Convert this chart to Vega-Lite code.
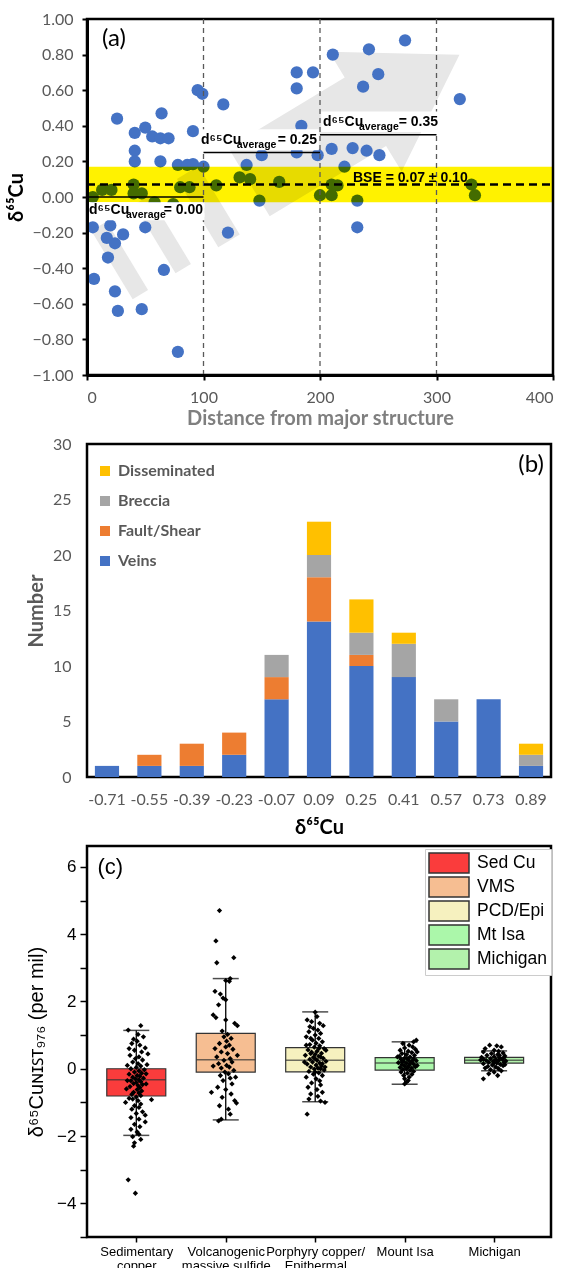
{
"$schema": "https://vega.github.io/schema/vega-lite/v6.json",
"padding": {"left": 4, "top": 9, "right": 10, "bottom": 0},
"spacing": 69,
"bounds": "flush",
"resolve": {"scale": {"color": "independent"}, "legend": {"color": "independent"}},
"config": {
  "font": "Lato",
  "view": {"stroke": "black", "strokeWidth": 2.5},
  "axis": {"grid": false, "domain": false, "tickColor": "black"}
},
"datasets": {
  "summ": [
    {"x": 1, "lbl": "Sed Cu", "lo": -1.98, "q1": -0.81, "med": -0.33, "q3": 0.0, "hi": 1.14},
    {"x": 2, "lbl": "VMS", "lo": -1.52, "q1": -0.1, "med": 0.27, "q3": 1.05, "hi": 2.68},
    {"x": 3, "lbl": "PCD/Epi", "lo": -0.98, "q1": -0.09, "med": 0.25, "q3": 0.63, "hi": 1.69},
    {"x": 4, "lbl": "Mt Isa", "lo": -0.46, "q1": -0.04, "med": 0.17, "q3": 0.33, "hi": 0.8},
    {"x": 5, "lbl": "Michigan", "lo": -0.06, "q1": 0.17, "med": 0.25, "q3": 0.34, "hi": 0.53}
  ]
},
"vconcat": [
{
  "width": 466, "height": 356,
  "encoding": {
    "x": {"field": "x", "type": "quantitative", "title": "Distance from major structure",
      "scale": {"domain": [0, 400], "nice": false, "zero": false},
      "axis": {"values": [0, 100, 200, 300, 400], "labelColor": "#595959", "labelFontSize": 16, "tickSize": 5, "tickWidth": 2, "labelPadding": 9, "domain": true, "domainWidth": 3, "domainColor": "black", "titleFontSize": 20, "titleFontWeight": "bold", "titleColor": "#7F7F7F", "titlePadding": 3, "zindex": 1}},
    "y": {"field": "y", "type": "quantitative", "title": "δ⁶⁵Cu",
      "scale": {"domain": [-1, 1], "nice": false, "zero": false},
      "axis": {"values": [-1, -0.8, -0.6, -0.4, -0.2, 0, 0.2, 0.4, 0.6, 0.8, 1], "format": ".2f", "labelColor": "#595959", "labelFontSize": 16, "tickSize": 5, "tickWidth": 2, "labelPadding": 9, "domain": true, "domainWidth": 3, "domainColor": "black", "titleFontSize": 20, "titleFontWeight": "bold", "titleColor": "black", "titlePadding": 6, "zindex": 1}}
  },
  "layer": [
    {"data": {"values": [
      {"p": "s1", "i": 0, "x": 3.7, "y": -0.19}, {"p": "s1", "i": 1, "x": 39.2, "y": -0.574}, {"p": "s1", "i": 2, "x": 52.4, "y": -0.522}, {"p": "s1", "i": 3, "x": 16.9, "y": -0.138},
      {"p": "s2", "i": 0, "x": 40.4, "y": -0.044}, {"p": "s2", "i": 1, "x": 76.0, "y": -0.429}, {"p": "s2", "i": 2, "x": 89.2, "y": -0.376}, {"p": "s2", "i": 3, "x": 53.6, "y": 0.008},
      {"p": "s3", "i": 0, "x": 77.2, "y": 0.101}, {"p": "s3", "i": 1, "x": 112.7, "y": -0.283}, {"p": "s3", "i": 2, "x": 131.1, "y": -0.211}, {"p": "s3", "i": 3, "x": 95.5, "y": 0.174},
      {"p": "b", "i": 0, "x": 121.3, "y": 0.276}, {"p": "b", "i": 1, "x": 221.2, "y": 0.671}, {"p": "b", "i": 2, "x": 207.8, "y": 0.816}, {"p": "b", "i": 3, "x": 319.7, "y": 0.799}, {"p": "b", "i": 4, "x": 270.1, "y": 0.143}, {"p": "b", "i": 5, "x": 256.7, "y": 0.287}, {"p": "b", "i": 6, "x": 156.8, "y": -0.108}
    ]},
     "mark": {"type": "line", "filled": true, "color": "#E7E7E7", "strokeWidth": 0, "clip": true},
     "encoding": {"detail": {"field": "p"}, "order": {"field": "i", "type": "quantitative"}}},
    {"data": {"values": [
      {"x": 25.8, "y": 0.44}, {"x": 41, "y": 0.36}, {"x": 50, "y": 0.39}, {"x": 64, "y": 0.47}, {"x": 56, "y": 0.34}, {"x": 63, "y": 0.33}, {"x": 70, "y": 0.33}, {"x": 95, "y": 0.6}, {"x": 99, "y": 0.58}, {"x": 117, "y": 0.52}, {"x": 91, "y": 0.37}, {"x": 41, "y": 0.26}, {"x": 41, "y": 0.2}, {"x": 63, "y": 0.2}, {"x": 78, "y": 0.18}, {"x": 86, "y": 0.18}, {"x": 91, "y": 0.185}, {"x": 100, "y": 0.17}, {"x": 137, "y": 0.18}, {"x": 150, "y": 0.235}, {"x": 180, "y": 0.7}, {"x": 194, "y": 0.7}, {"x": 180, "y": 0.61}, {"x": 211, "y": 0.8}, {"x": 242, "y": 0.83}, {"x": 273, "y": 0.88}, {"x": 250, "y": 0.69}, {"x": 237, "y": 0.62}, {"x": 320, "y": 0.55}, {"x": 184, "y": 0.4}, {"x": 180, "y": 0.25}, {"x": 198, "y": 0.235}, {"x": 210, "y": 0.27}, {"x": 228, "y": 0.275}, {"x": 240, "y": 0.26}, {"x": 251, "y": 0.235}, {"x": 221, "y": 0.17},
      {"x": 13, "y": 0.04}, {"x": 21, "y": 0.04}, {"x": 40, "y": 0.07}, {"x": 40, "y": 0.02}, {"x": 47, "y": 0.02}, {"x": 80, "y": 0.055}, {"x": 88, "y": 0.055}, {"x": 111, "y": 0.065}, {"x": 131, "y": 0.11}, {"x": 140, "y": 0.1}, {"x": 148, "y": -0.02}, {"x": 165, "y": 0.085}, {"x": 210, "y": 0.07}, {"x": 215, "y": 0.065}, {"x": 200, "y": 0.01}, {"x": 210, "y": 0.01}, {"x": 232, "y": -0.02}, {"x": 330, "y": 0.07}, {"x": 333, "y": 0.01}, {"x": 58, "y": -0.03}, {"x": 74, "y": -0.04}, {"x": 5, "y": 0.0},
      {"x": 5, "y": -0.17}, {"x": 20, "y": -0.16}, {"x": 17, "y": -0.23}, {"x": 31, "y": -0.21}, {"x": 24, "y": -0.26}, {"x": 18, "y": -0.34}, {"x": 50, "y": -0.17}, {"x": 6, "y": -0.46}, {"x": 24, "y": -0.53}, {"x": 26.5, "y": -0.64}, {"x": 47, "y": -0.63}, {"x": 66, "y": -0.41}, {"x": 78, "y": -0.87}, {"x": 121, "y": -0.2}, {"x": 232, "y": -0.17}
    ]},
     "mark": {"type": "circle", "size": 150, "color": "#4472C4", "opacity": 1}},
    {"data": {"values": [{"x": 0, "x2": 400, "y": -0.03, "y2": 0.17}]},
     "mark": {"type": "rect", "color": "#FFF200", "blend": "multiply"},
     "encoding": {"x2": {"field": "x2"}, "y2": {"field": "y2"}}},
    {"data": {"values": [{"x": 100, "y": -1, "y2": 1}, {"x": 200, "y": -1, "y2": 1}, {"x": 300, "y": -1, "y2": 1}]},
     "mark": {"type": "rule", "color": "#595959", "strokeDash": [5, 4], "strokeWidth": 1.3},
     "encoding": {"y2": {"field": "y2"}}},
    {"data": {"values": [{"x": 0, "x2": 400, "y": 0.07}]},
     "mark": {"type": "rule", "color": "black", "strokeDash": [8, 5], "strokeWidth": 2.5},
     "encoding": {"x2": {"field": "x2"}}},
    {"data": {"values": [{"x": 1.5, "x2": 101, "y": -0.03, "y2": -0.13}, {"x": 96, "x2": 199, "y": 0.262, "y2": 0.38}, {"x": 201, "x2": 303, "y": 0.365, "y2": 0.48}]},
     "mark": {"type": "rect", "color": "white"},
     "encoding": {"x2": {"field": "x2"}, "y2": {"field": "y2"}}},
    {"data": {"values": [{"x": 0, "x2": 100, "y": 0.0}, {"x": 100, "x2": 200, "y": 0.25}, {"x": 200, "x2": 300, "y": 0.35}]},
     "mark": {"type": "rule", "color": "black", "strokeWidth": 1.5},
     "encoding": {"x2": {"field": "x2"}}},
    {"data": {"values": [{"x": 1.7, "y": -0.073, "t": "d⁶⁵Cu"}, {"x": 97.9, "y": 0.32, "t": "d⁶⁵Cu"}, {"x": 202.6, "y": 0.421, "t": "d⁶⁵Cu"}, {"x": 228.3, "y": 0.107, "t": "BSE = 0.07 ± 0.10"}]},
     "mark": {"type": "text", "align": "left", "baseline": "middle", "font": "Liberation Sans", "fontWeight": "bold", "fontSize": 14, "color": "black"},
     "encoding": {"text": {"field": "t"}}},
    {"data": {"values": [{"x": 33.5, "y": -0.1, "t": "average"}, {"x": 128.5, "y": 0.292, "t": "average"}, {"x": 233.5, "y": 0.393, "t": "average"}]},
     "mark": {"type": "text", "align": "left", "baseline": "middle", "font": "Liberation Sans", "fontWeight": "bold", "fontSize": 10.5, "color": "black"},
     "encoding": {"text": {"field": "t"}}},
    {"data": {"values": [{"x": 99.6, "y": -0.073, "t": "= 0.00"}, {"x": 197.4, "y": 0.32, "t": "= 0.25"}, {"x": 301.3, "y": 0.421, "t": "= 0.35"}]},
     "mark": {"type": "text", "align": "right", "baseline": "middle", "font": "Liberation Sans", "fontWeight": "bold", "fontSize": 14, "color": "black"},
     "encoding": {"text": {"field": "t"}}},
    {"data": {"values": [{"x": 23.2, "y": 0.888, "t": "(a)"}]},
     "mark": {"type": "text", "baseline": "middle", "fontSize": 24, "color": "black"},
     "encoding": {"text": {"field": "t"}}}
  ]
},
{
  "width": 464, "height": 333,
  "layer": [
    {"data": {"values": [
      {"bin": "-0.71", "type": "Veins", "n": 1, "k": 1},
      {"bin": "-0.55", "type": "Veins", "n": 1, "k": 1}, {"bin": "-0.55", "type": "Fault/Shear", "n": 1, "k": 2},
      {"bin": "-0.39", "type": "Veins", "n": 1, "k": 1}, {"bin": "-0.39", "type": "Fault/Shear", "n": 2, "k": 2},
      {"bin": "-0.23", "type": "Veins", "n": 2, "k": 1}, {"bin": "-0.23", "type": "Fault/Shear", "n": 2, "k": 2},
      {"bin": "-0.07", "type": "Veins", "n": 7, "k": 1}, {"bin": "-0.07", "type": "Fault/Shear", "n": 2, "k": 2}, {"bin": "-0.07", "type": "Breccia", "n": 2, "k": 3},
      {"bin": "0.09", "type": "Veins", "n": 14, "k": 1}, {"bin": "0.09", "type": "Fault/Shear", "n": 4, "k": 2}, {"bin": "0.09", "type": "Breccia", "n": 2, "k": 3}, {"bin": "0.09", "type": "Disseminated", "n": 3, "k": 4},
      {"bin": "0.25", "type": "Veins", "n": 10, "k": 1}, {"bin": "0.25", "type": "Fault/Shear", "n": 1, "k": 2}, {"bin": "0.25", "type": "Breccia", "n": 2, "k": 3}, {"bin": "0.25", "type": "Disseminated", "n": 3, "k": 4},
      {"bin": "0.41", "type": "Veins", "n": 9, "k": 1}, {"bin": "0.41", "type": "Breccia", "n": 3, "k": 3}, {"bin": "0.41", "type": "Disseminated", "n": 1, "k": 4},
      {"bin": "0.57", "type": "Veins", "n": 5, "k": 1}, {"bin": "0.57", "type": "Breccia", "n": 2, "k": 3},
      {"bin": "0.73", "type": "Veins", "n": 7, "k": 1},
      {"bin": "0.89", "type": "Veins", "n": 1, "k": 1}, {"bin": "0.89", "type": "Breccia", "n": 1, "k": 3}, {"bin": "0.89", "type": "Disseminated", "n": 1, "k": 4}
    ]},
     "mark": {"type": "bar"},
     "encoding": {
       "x": {"field": "bin", "type": "ordinal", "title": "δ⁶⁵Cu",
         "sort": ["-0.71", "-0.55", "-0.39", "-0.23", "-0.07", "0.09", "0.25", "0.41", "0.57", "0.73", "0.89"],
         "scale": {"paddingInner": 0.43, "paddingOuter": 0.186},
         "axis": {"labelAngle": 0, "labelColor": "#595959", "labelFontSize": 16, "tickSize": 0, "labelPadding": 14, "titleColor": "black", "titleFontSize": 20, "titleFontWeight": "bold", "titlePadding": 10}},
       "y": {"field": "n", "type": "quantitative", "stack": "zero", "title": "Number",
         "scale": {"domain": [0, 30], "nice": false},
         "axis": {"values": [0, 5, 10, 15, 20, 25, 30], "labelColor": "#595959", "labelFontSize": 16, "tickSize": 0, "labelPadding": 16, "titleColor": "#595959", "titleFontSize": 20, "titleFontWeight": "bold", "titlePadding": 6}},
       "color": {"field": "type", "type": "nominal",
         "scale": {"domain": ["Disseminated", "Breccia", "Fault/Shear", "Veins"], "range": ["#FFC000", "#A5A5A5", "#ED7D31", "#4472C4"]},
         "legend": {"title": null, "orient": "none", "legendX": 10, "legendY": 19, "symbolType": "square", "symbolSize": 100, "symbolStrokeWidth": 0, "symbolOpacity": 1, "labelFont": "Lato", "labelFontSize": 16, "labelFontWeight": "bold", "labelColor": "#595959", "rowPadding": 14, "labelOffset": 5, "padding": 0}},
       "order": {"field": "k", "type": "quantitative"}
     }},
    {"data": {"values": [{"bin": "0.89", "n": 28.1, "t": "(b)"}]},
     "mark": {"type": "text", "fontSize": 24, "baseline": "middle", "color": "black"},
     "encoding": {
       "x": {"field": "bin", "type": "ordinal", "title": "δ⁶⁵Cu", "sort": ["-0.71", "-0.55", "-0.39", "-0.23", "-0.07", "0.09", "0.25", "0.41", "0.57", "0.73", "0.89"]},
       "y": {"field": "n", "type": "quantitative", "title": "Number"},
       "text": {"field": "t"}
     }}
  ]
},
{
  "width": 464, "height": 391,
  "encoding": {
    "x": {"field": "x", "type": "quantitative", "title": null,
      "scale": {"domain": [0.505, 5.58], "nice": false, "zero": false},
      "axis": {"values": [1, 2, 3, 4, 5], "labelOverlap": false, "labelBound": false, "labelExpr": "datum.value == 1 ? ['Sedimentary', 'copper'] : datum.value == 2 ? ['Volcanogenic', 'massive sulfide'] : datum.value == 3 ? ['Porphyry copper/', 'Epithermal'] : datum.value == 4 ? 'Mount Isa' : 'Michigan'", "labelFont": "Liberation Sans", "labelFontSize": 13, "labelLineHeight": 14, "labelColor": "black", "tickSize": 5, "tickWidth": 1.5, "labelPadding": 3}},
    "y": {"field": "y", "type": "quantitative", "title": "δ⁶⁵Cuɴɪꜱᴛ₉₇₆ (per mil)",
      "scale": {"domain": [-5, 6.62], "nice": false, "zero": false},
      "axis": {"values": [-5, -4, -3, -2, -1, 0, 1, 2, 3, 4, 5, 6], "labelExpr": "datum.value % 2 == 0 ? datum.label : ''", "labelFont": "Liberation Sans", "labelFontSize": 17, "labelColor": "black", "tickSize": 7, "tickWidth": 1.5, "labelPadding": 4, "titleFont": "Liberation Sans", "titleFontSize": 20, "titleFontWeight": "normal", "titleColor": "black", "titlePadding": 10}}
  },
  "layer": [
    {"data": {"name": "summ"},
     "mark": {"type": "rule", "color": "black", "strokeWidth": 1.3},
     "encoding": {"y": {"field": "lo", "type": "quantitative", "title": "δ⁶⁵Cuɴɪꜱᴛ₉₇₆ (per mil)"}, "y2": {"field": "hi"}}},
    {"data": {"name": "summ"},
     "mark": {"type": "bar", "size": 59, "stroke": "#333333", "strokeWidth": 1.2},
     "encoding": {
       "y": {"field": "q1", "type": "quantitative", "title": "δ⁶⁵Cuɴɪꜱᴛ₉₇₆ (per mil)"}, "y2": {"field": "q3"},
       "color": {"field": "lbl", "type": "nominal",
         "scale": {"domain": ["Sed Cu", "VMS", "PCD/Epi", "Mt Isa", "Michigan"], "range": ["#FA3C3C", "#F6BE92", "#F6F1BF", "#ABF7AA", "#B3F2AC"]},
         "legend": {"title": null, "orient": "none", "legendX": 338, "legendY": 3, "fillColor": "white", "strokeColor": "#cccccc", "padding": 3, "symbolType": "M-2,-1H2V1H-2Z", "symbolSize": 400, "symbolStrokeColor": "#333333", "symbolStrokeWidth": 1.5, "symbolOpacity": 1, "symbolOffset": 10, "labelOffset": 17, "labelFont": "Liberation Sans", "labelFontSize": 17.5, "labelColor": "black", "rowPadding": -2.5}}
     }},
    {"data": {"name": "summ"},
     "mark": {"type": "tick", "orient": "horizontal", "size": 59, "thickness": 1.5, "color": "#333333"},
     "encoding": {"y": {"field": "med", "type": "quantitative", "title": "δ⁶⁵Cuɴɪꜱᴛ₉₇₆ (per mil)"}}},
    {"data": {"name": "summ"},
     "mark": {"type": "tick", "orient": "horizontal", "size": 26, "thickness": 1.5, "color": "black"},
     "encoding": {"y": {"field": "lo", "type": "quantitative", "title": "δ⁶⁵Cuɴɪꜱᴛ₉₇₆ (per mil)"}}},
    {"data": {"name": "summ"},
     "mark": {"type": "tick", "orient": "horizontal", "size": 26, "thickness": 1.5, "color": "black"},
     "encoding": {"y": {"field": "hi", "type": "quantitative", "title": "δ⁶⁵Cuɴɪꜱᴛ₉₇₆ (per mil)"}}},
    {"data": {"values": [
      {"x": 1.05, "y": 1.28}, {"x": 0.91, "y": 1.15}, {"x": 1.02, "y": 1.02}, {"x": 1.08, "y": 0.95}, {"x": 0.97, "y": 0.88}, {"x": 1.01, "y": 0.82}, {"x": 0.95, "y": 0.75}, {"x": 1.04, "y": 0.7}, {"x": 1.1, "y": 0.62}, {"x": 0.98, "y": 0.55}, {"x": 1.06, "y": 0.5}, {"x": 1.13, "y": 0.44}, {"x": 0.93, "y": 0.4}, {"x": 1.03, "y": 0.35}, {"x": 0.99, "y": 0.3}, {"x": 1.07, "y": 0.26}, {"x": 0.96, "y": 0.2}, {"x": 1.02, "y": 0.15}, {"x": 0.9, "y": 0.1}, {"x": 1.05, "y": 0.08}, {"x": 1.0, "y": 0.04}, {"x": 0.94, "y": 0.0}, {"x": 1.09, "y": -0.03}, {"x": 1.03, "y": -0.06}, {"x": 0.98, "y": -0.1}, {"x": 1.06, "y": -0.13}, {"x": 0.92, "y": -0.16}, {"x": 1.01, "y": -0.2}, {"x": 1.04, "y": -0.22}, {"x": 0.96, "y": -0.25}, {"x": 1.08, "y": -0.28}, {"x": 0.99, "y": -0.3}, {"x": 1.03, "y": -0.33}, {"x": 0.94, "y": -0.36}, {"x": 1.05, "y": -0.38}, {"x": 1.0, "y": -0.41}, {"x": 0.97, "y": -0.44}, {"x": 1.07, "y": -0.47}, {"x": 1.02, "y": -0.5}, {"x": 0.93, "y": -0.53}, {"x": 1.04, "y": -0.56}, {"x": 0.89, "y": -0.6}, {"x": 1.01, "y": -0.62}, {"x": 1.06, "y": -0.66}, {"x": 0.97, "y": -0.7}, {"x": 1.03, "y": -0.72}, {"x": 0.95, "y": -0.76}, {"x": 1.05, "y": -0.8}, {"x": 1.0, "y": -0.84}, {"x": 0.92, "y": -0.88}, {"x": 1.17, "y": -0.92}, {"x": 1.02, "y": -0.95}, {"x": 0.88, "y": -1.0}, {"x": 1.05, "y": -1.05}, {"x": 0.98, "y": -1.1}, {"x": 1.03, "y": -1.15}, {"x": 0.95, "y": -1.2}, {"x": 1.07, "y": -1.28}, {"x": 1.0, "y": -1.33}, {"x": 1.1, "y": -1.38}, {"x": 0.94, "y": -1.45}, {"x": 1.03, "y": -1.5}, {"x": 1.1, "y": -1.58}, {"x": 0.98, "y": -1.65}, {"x": 1.04, "y": -1.72}, {"x": 0.94, "y": -1.8}, {"x": 1.01, "y": -1.88}, {"x": 1.03, "y": -1.95}, {"x": 0.96, "y": -2.02}, {"x": 1.05, "y": -2.1}, {"x": 0.98, "y": -2.2}, {"x": 0.97, "y": -2.3}, {"x": 0.91, "y": -3.3}, {"x": 0.99, "y": -3.7}, {"x": 0.92, "y": 0.6}, {"x": 1.12, "y": 0.12}, {"x": 1.11, "y": -0.45}, {"x": 1.11, "y": -0.15}, {"x": 0.96, "y": -0.9}, {"x": 0.9, "y": -0.35},
      {"x": 1.93, "y": 4.7}, {"x": 1.89, "y": 3.8}, {"x": 2.09, "y": 3.3}, {"x": 1.9, "y": 3.15}, {"x": 2.05, "y": 2.68}, {"x": 2.0, "y": 2.62}, {"x": 2.04, "y": 2.6}, {"x": 1.88, "y": 2.3}, {"x": 1.94, "y": 2.22}, {"x": 1.97, "y": 2.1}, {"x": 2.0, "y": 2.05}, {"x": 1.92, "y": 1.9}, {"x": 1.86, "y": 1.6}, {"x": 1.89, "y": 1.52}, {"x": 2.1, "y": 1.35}, {"x": 2.13, "y": 1.28}, {"x": 1.96, "y": 1.12}, {"x": 2.02, "y": 1.02}, {"x": 1.98, "y": 0.95}, {"x": 2.06, "y": 0.9}, {"x": 2.01, "y": 0.82}, {"x": 1.93, "y": 0.75}, {"x": 2.04, "y": 0.7}, {"x": 2.0, "y": 0.65}, {"x": 2.08, "y": 0.58}, {"x": 1.95, "y": 0.5}, {"x": 2.02, "y": 0.45}, {"x": 2.13, "y": 0.4}, {"x": 1.9, "y": 0.35}, {"x": 2.05, "y": 0.3}, {"x": 1.98, "y": 0.25}, {"x": 2.07, "y": 0.2}, {"x": 1.92, "y": 0.15}, {"x": 2.01, "y": 0.1}, {"x": 1.86, "y": 0.08}, {"x": 2.04, "y": 0.05}, {"x": 1.95, "y": 0.02}, {"x": 2.09, "y": -0.05}, {"x": 1.99, "y": -0.1}, {"x": 2.03, "y": -0.15}, {"x": 1.94, "y": -0.2}, {"x": 2.05, "y": -0.28}, {"x": 1.97, "y": -0.35}, {"x": 2.07, "y": -0.45}, {"x": 1.91, "y": -0.55}, {"x": 2.0, "y": -0.62}, {"x": 1.84, "y": -0.7}, {"x": 2.06, "y": -0.75}, {"x": 1.96, "y": -0.85}, {"x": 2.1, "y": -0.95}, {"x": 2.12, "y": -1.02}, {"x": 1.93, "y": -1.1}, {"x": 2.03, "y": -1.2}, {"x": 2.05, "y": -1.35}, {"x": 1.95, "y": -1.5}, {"x": 1.92, "y": -1.55}, {"x": 2.0, "y": 1.45}, {"x": 1.88, "y": 0.6}, {"x": 2.11, "y": -0.25},
      {"x": 3.0, "y": 1.68}, {"x": 3.02, "y": 1.55}, {"x": 2.91, "y": 1.45}, {"x": 2.96, "y": 1.4}, {"x": 3.05, "y": 1.35}, {"x": 3.09, "y": 1.28}, {"x": 2.98, "y": 1.2}, {"x": 3.03, "y": 1.15}, {"x": 2.93, "y": 1.1}, {"x": 3.06, "y": 1.05}, {"x": 3.0, "y": 1.0}, {"x": 2.9, "y": 0.95}, {"x": 3.04, "y": 0.9}, {"x": 2.97, "y": 0.85}, {"x": 3.08, "y": 0.8}, {"x": 3.01, "y": 0.76}, {"x": 2.94, "y": 0.72}, {"x": 3.05, "y": 0.68}, {"x": 2.99, "y": 0.64}, {"x": 3.1, "y": 0.6}, {"x": 2.92, "y": 0.56}, {"x": 3.02, "y": 0.52}, {"x": 2.96, "y": 0.49}, {"x": 3.07, "y": 0.46}, {"x": 3.0, "y": 0.43}, {"x": 2.89, "y": 0.4}, {"x": 3.04, "y": 0.37}, {"x": 2.98, "y": 0.34}, {"x": 3.09, "y": 0.31}, {"x": 2.94, "y": 0.28}, {"x": 3.02, "y": 0.25}, {"x": 3.12, "y": 0.22}, {"x": 2.97, "y": 0.2}, {"x": 3.05, "y": 0.17}, {"x": 2.91, "y": 0.14}, {"x": 3.01, "y": 0.11}, {"x": 3.07, "y": 0.08}, {"x": 2.95, "y": 0.05}, {"x": 3.03, "y": 0.02}, {"x": 2.99, "y": -0.01}, {"x": 3.1, "y": -0.04}, {"x": 2.93, "y": -0.08}, {"x": 3.04, "y": -0.12}, {"x": 2.98, "y": -0.16}, {"x": 3.08, "y": -0.2}, {"x": 2.9, "y": -0.25}, {"x": 3.01, "y": -0.3}, {"x": 3.05, "y": -0.36}, {"x": 2.96, "y": -0.42}, {"x": 3.06, "y": -0.48}, {"x": 2.92, "y": -0.55}, {"x": 3.02, "y": -0.62}, {"x": 3.08, "y": -0.7}, {"x": 2.95, "y": -0.75}, {"x": 3.03, "y": -0.82}, {"x": 2.93, "y": -0.9}, {"x": 3.06, "y": -0.96}, {"x": 3.11, "y": -1.0}, {"x": 2.91, "y": -1.35}, {"x": 3.0, "y": 0.3}, {"x": 2.95, "y": 0.45}, {"x": 3.08, "y": 0.15}, {"x": 3.04, "y": 0.6}, {"x": 3.11, "y": 0.05}, {"x": 2.9, "y": 0.7}, {"x": 3.06, "y": 0.35}, {"x": 3.0, "y": -0.1}, {"x": 2.95, "y": 0.9}, {"x": 2.88, "y": 0.2}, {"x": 3.12, "y": 0.55}, {"x": 3.06, "y": 0.0}, {"x": 2.94, "y": 1.25},
      {"x": 4.13, "y": 0.85}, {"x": 4.1, "y": 0.8}, {"x": 3.98, "y": 0.75}, {"x": 4.05, "y": 0.7}, {"x": 4.09, "y": 0.65}, {"x": 4.0, "y": 0.62}, {"x": 4.12, "y": 0.58}, {"x": 3.95, "y": 0.55}, {"x": 4.04, "y": 0.52}, {"x": 4.08, "y": 0.48}, {"x": 3.97, "y": 0.45}, {"x": 4.02, "y": 0.42}, {"x": 4.11, "y": 0.4}, {"x": 3.94, "y": 0.37}, {"x": 4.06, "y": 0.35}, {"x": 4.0, "y": 0.32}, {"x": 4.1, "y": 0.3}, {"x": 3.96, "y": 0.28}, {"x": 4.04, "y": 0.26}, {"x": 4.13, "y": 0.24}, {"x": 3.99, "y": 0.22}, {"x": 4.07, "y": 0.2}, {"x": 3.93, "y": 0.18}, {"x": 4.02, "y": 0.16}, {"x": 4.1, "y": 0.14}, {"x": 3.97, "y": 0.12}, {"x": 4.05, "y": 0.1}, {"x": 4.0, "y": 0.08}, {"x": 4.12, "y": 0.06}, {"x": 3.95, "y": 0.04}, {"x": 4.08, "y": 0.02}, {"x": 4.02, "y": 0.0}, {"x": 3.98, "y": -0.02}, {"x": 4.06, "y": -0.05}, {"x": 4.1, "y": -0.08}, {"x": 3.96, "y": -0.1}, {"x": 4.03, "y": -0.13}, {"x": 4.08, "y": -0.17}, {"x": 3.99, "y": -0.2}, {"x": 4.05, "y": -0.25}, {"x": 4.0, "y": -0.3}, {"x": 4.04, "y": -0.35}, {"x": 4.02, "y": -0.4}, {"x": 4.0, "y": -0.45}, {"x": 4.03, "y": 0.3}, {"x": 4.06, "y": 0.15}, {"x": 3.97, "y": 0.2}, {"x": 4.14, "y": 0.1}, {"x": 4.09, "y": 0.25}, {"x": 3.92, "y": 0.35}, {"x": 4.14, "y": 0.5}, {"x": 4.04, "y": 0.05},
      {"x": 4.95, "y": 0.7}, {"x": 5.03, "y": 0.68}, {"x": 5.08, "y": 0.65}, {"x": 4.9, "y": 0.6}, {"x": 5.0, "y": 0.55}, {"x": 5.05, "y": 0.52}, {"x": 4.88, "y": 0.5}, {"x": 5.1, "y": 0.47}, {"x": 4.97, "y": 0.45}, {"x": 5.04, "y": 0.42}, {"x": 4.92, "y": 0.4}, {"x": 5.12, "y": 0.38}, {"x": 5.0, "y": 0.36}, {"x": 4.86, "y": 0.34}, {"x": 5.06, "y": 0.32}, {"x": 4.96, "y": 0.3}, {"x": 5.09, "y": 0.29}, {"x": 5.02, "y": 0.27}, {"x": 4.91, "y": 0.25}, {"x": 5.05, "y": 0.24}, {"x": 4.99, "y": 0.22}, {"x": 5.11, "y": 0.2}, {"x": 4.94, "y": 0.19}, {"x": 5.03, "y": 0.17}, {"x": 4.88, "y": 0.15}, {"x": 5.07, "y": 0.13}, {"x": 4.98, "y": 0.11}, {"x": 5.1, "y": 0.09}, {"x": 4.93, "y": 0.07}, {"x": 5.02, "y": 0.05}, {"x": 4.9, "y": 0.02}, {"x": 5.05, "y": 0.0}, {"x": 4.96, "y": -0.03}, {"x": 5.08, "y": -0.06}, {"x": 5.0, "y": -0.1}, {"x": 4.94, "y": -0.15}, {"x": 5.04, "y": -0.2}, {"x": 4.88, "y": -0.3}, {"x": 4.88, "y": 0.28}, {"x": 5.11, "y": 0.33}, {"x": 5.13, "y": 0.23}, {"x": 5.0, "y": 0.18}, {"x": 5.06, "y": 0.4}, {"x": 4.85, "y": 0.26}, {"x": 5.12, "y": 0.12}
    ]},
     "mark": {"type": "point", "shape": "diamond", "filled": true, "size": 28, "color": "black", "opacity": 1}},
    {"data": {"values": [{"x": 0.71, "y": 6.0, "t": "(c)"}]},
     "mark": {"type": "text", "baseline": "middle", "font": "Liberation Sans", "fontSize": 22, "color": "black"},
     "encoding": {"text": {"field": "t"}}}
  ]
}
]
}
